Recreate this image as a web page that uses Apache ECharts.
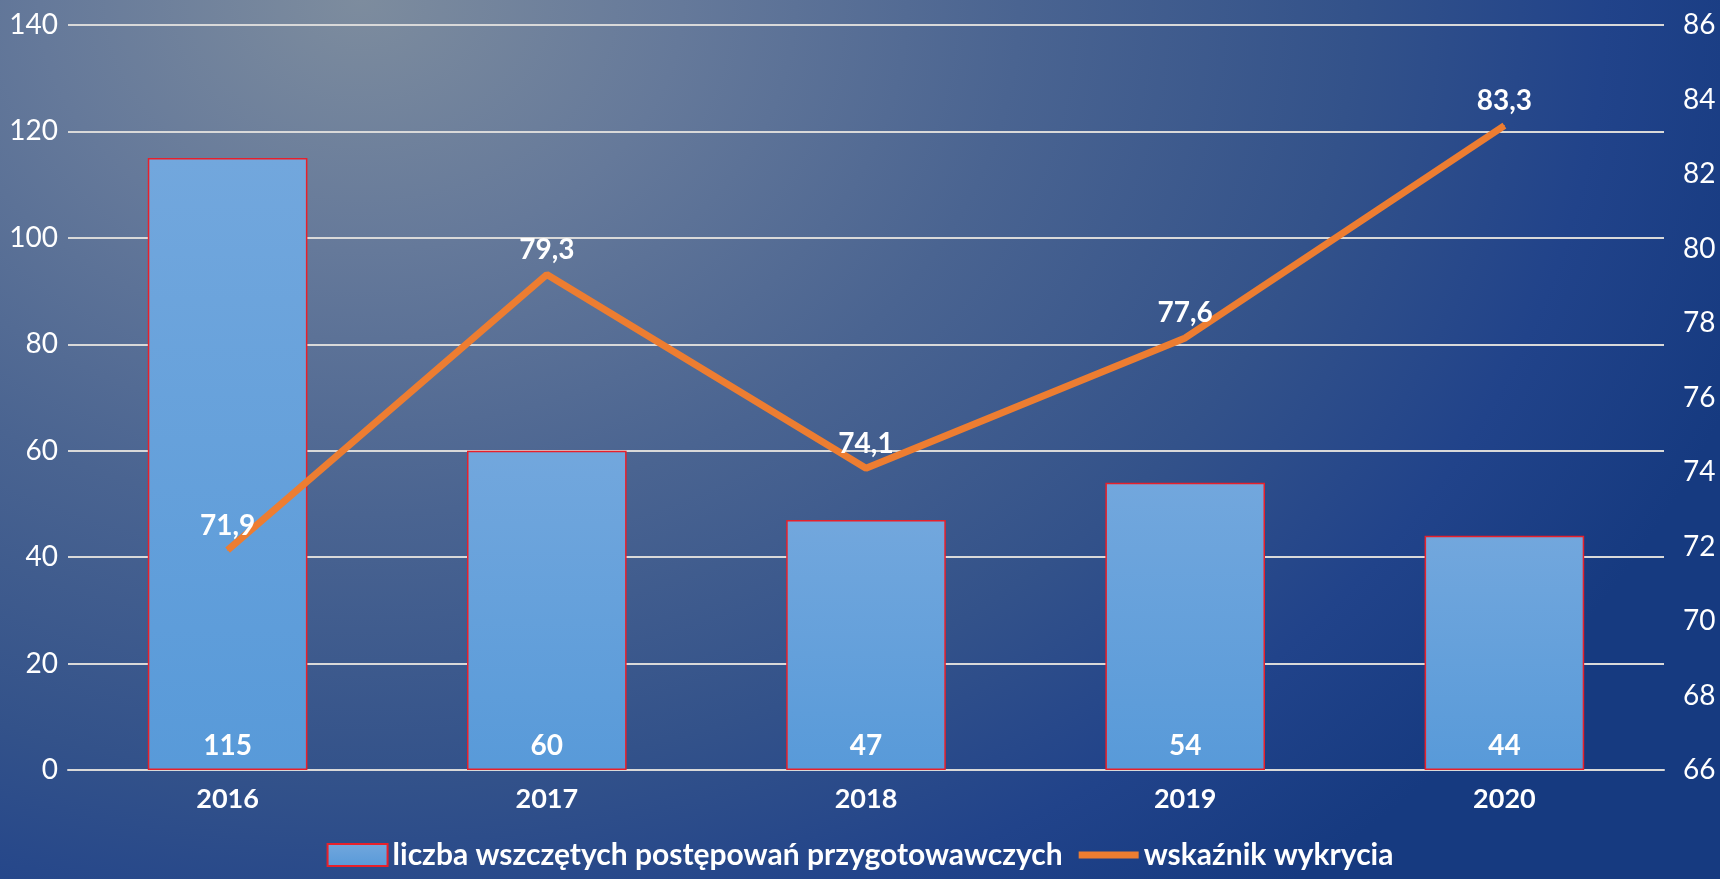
<!DOCTYPE html>
<html>
<head>
<meta charset="utf-8">
<script src="https://cdn.jsdelivr.net/npm/echarts@6/dist/echarts.min.js"></script>
<style>
  html, body { margin: 0; padding: 0; }
  #chart {
    width: 1720px; height: 879px;
    background: radial-gradient(ellipse 85% 130% at 21% 0%, #7d8c9e 0%, #65799a 22%, #4a6491 45%, #33528a 68%, #21438a 85%, #163a80 100%);
  }
</style>
</head>
<body>
<div id="chart"></div>
<script>
var years = ['2016', '2017', '2018', '2019', '2020'];
var casesCount = [115, 60, 47, 54, 44];
var detectionRate = [71.9, 79.3, 74.1, 77.6, 83.3];
var barName = 'liczba wszczętych postępowań przygotowawczych';
var lineName = 'wskaźnik wykrycia';

var fontFam = 'Lato, "Noto Sans", sans-serif';

var myChart = echarts.init(document.getElementById('chart'));
var option = {
    backgroundColor: 'transparent',
    textStyle: { fontFamily: fontFam },
    grid: { left: 68, right: 56, top: 25, bottom: 109 },
    legend: {
        bottom: 4,
        left: 'center',
        itemWidth: 60,
        itemHeight: 22,
        itemGap: 16,
        textStyle: { color: '#ffffff', fontSize: 30, fontWeight: 'bold', fontFamily: fontFam },
        data: [
            { name: barName, icon: 'rect' },
            { name: lineName, icon: 'path://M0,0 H60 V7 H0 Z', itemStyle: { color: '#ed7d31', borderWidth: 0 } }
        ]
    },
    xAxis: {
        type: 'category',
        data: years,
        axisTick: { show: false },
        axisLine: { lineStyle: { color: '#d9d9d9', width: 2 } },
        axisLabel: { color: '#ffffff', fontSize: 27, fontWeight: 'bold', margin: 16 }
    },
    yAxis: [
        {
            type: 'value',
            min: 0, max: 140, interval: 20,
            axisLine: { show: false },
            axisTick: { show: false },
            axisLabel: { color: '#ffffff', fontSize: 28, margin: 10 },
            splitLine: { lineStyle: { color: '#d9d9d9', width: 2 } }
        },
        {
            type: 'value',
            min: 66, max: 86, interval: 2,
            axisLine: { show: false },
            axisTick: { show: false },
            axisLabel: { color: '#ffffff', fontSize: 28, margin: 19 },
            splitLine: { show: false }
        }
    ],
    series: [
        {
            name: barName,
            type: 'bar',
            barWidth: '50%',
            data: casesCount,
            itemStyle: {
                color: new echarts.graphic.LinearGradient(0, 0, 0, 1, [
                    { offset: 0, color: '#72a7dd' },
                    { offset: 1, color: '#589ad9' }
                ]),
                borderColor: '#e8202a',
                borderWidth: 1.5
            },
            label: {
                show: true,
                position: 'insideBottom',
                distance: 10,
                color: '#ffffff',
                fontSize: 28,
                fontWeight: 'bold'
            }
        },
        {
            name: lineName,
            type: 'line',
            yAxisIndex: 1,
            data: detectionRate,
            symbol: 'circle',
            symbolSize: 1,
            showSymbol: true,
            z: 5,
            lineStyle: { color: '#ed7d31', width: 7 },
            itemStyle: { color: '#ed7d31' },
            label: {
                show: true,
                position: 'top',
                distance: 10,
                color: '#ffffff',
                fontSize: 28,
                fontWeight: 'bold',
                formatter: function (p) { return String(p.value).replace('.', ','); }
            }
        }
    ]
};
myChart.setOption(option);
</script>
</body>
</html>
